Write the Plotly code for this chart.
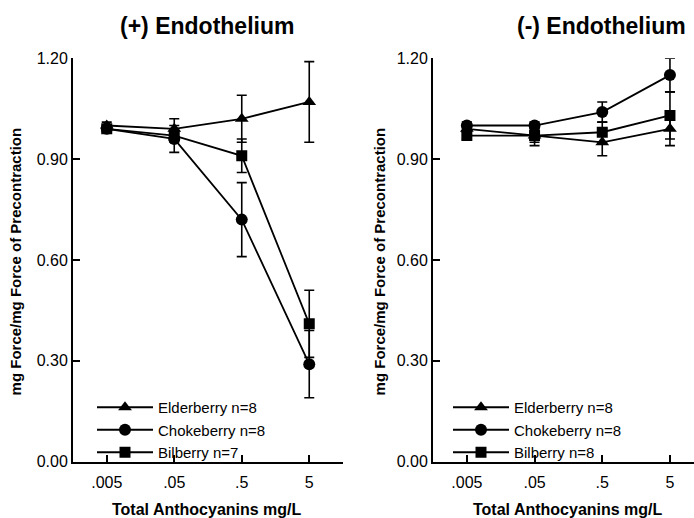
import plotly.graph_objects as go

# ---------------- data ----------------
concentrations = [".005", ".05", ".5", "5"]
symbols = ["triangle-up", "circle", "square"]
names_plus = ["Elderberry n=8", "Chokeberry n=8", "Bilberry n=7"]
names_minus = ["Elderberry n=8", "Chokeberry n=8", "Bilberry n=8"]

# (+) Endothelium
elder_plus = [1.00, 0.99, 1.02, 1.07]
elder_plus_err = [0.01, 0.03, 0.07, 0.12]
choke_plus = [0.99, 0.96, 0.72, 0.29]
choke_plus_err = [0.01, 0.04, 0.11, 0.10]
bil_plus = [0.99, 0.97, 0.91, 0.41]
bil_plus_err = [0.01, 0.02, 0.05, 0.10]

# (-) Endothelium
elder_minus = [0.99, 0.97, 0.95, 0.99]
elder_minus_err = [0.01, 0.02, 0.04, 0.05]
choke_minus = [1.00, 1.00, 1.04, 1.15]
choke_minus_err = [0.01, 0.01, 0.03, 0.05]
bil_minus = [0.97, 0.97, 0.98, 1.03]
bil_minus_err = [0.01, 0.03, 0.03, 0.07]

y_ticks = [0.0, 0.3, 0.6, 0.9, 1.2]

# ---------------- figure ----------------
W, H = 694, 518
FONT = "Arial, Liberation Sans, sans-serif"
fig = go.Figure()

marker_sizes = {"triangle-up": 12, "circle": 12, "square": 11}


def add_series(y, err, name, symbol, xa, ya, legend):
    fig.add_trace(go.Scatter(
        x=concentrations, y=y, name=name, mode="lines+markers",
        xaxis=xa, yaxis=ya, legend=legend,
        line=dict(color="black", width=1.8),
        marker=dict(symbol=symbol, size=marker_sizes[symbol], color="black"),
        error_y=dict(type="data", array=err, visible=True, color="black",
                     thickness=1.6, width=5),
    ))


for y, e, n, s in zip([elder_plus, choke_plus, bil_plus],
                      [elder_plus_err, choke_plus_err, bil_plus_err],
                      names_plus, symbols):
    add_series(y, e, n, s, "x", "y", "legend")

for y, e, n, s in zip([elder_minus, choke_minus, bil_minus],
                      [elder_minus_err, choke_minus_err, bil_minus_err],
                      names_minus, symbols):
    add_series(y, e, n, s, "x2", "y2", "legend2")

axis_common = dict(showline=True, linecolor="black", linewidth=2,
                   ticks="inside", ticklen=7, tickwidth=1.6, tickcolor="black",
                   showgrid=False, zeroline=False,
                   tickfont=dict(family=FONT, size=16, color="black"))

ydom = [(H - 469) / H, (H - 52) / H]
fig.update_layout(
    width=W, height=H,
    margin=dict(l=0, r=0, t=0, b=0),
    paper_bgcolor="white", plot_bgcolor="white",
    font=dict(family=FONT, color="black"),
    xaxis=dict(domain=[73 / W, 343 / W], anchor="y", type="category",
               range=[-0.5, 3.5], ticklabelstandoff=5, **axis_common),
    yaxis=dict(domain=ydom, anchor="x", range=[0, 1.2], tickvals=y_ticks,
               tickformat=".2f", **axis_common),
    xaxis2=dict(domain=[433 / W, 1.0], anchor="y2", type="category",
                range=[-0.5, 3.355], ticklabelstandoff=5, **axis_common),
    yaxis2=dict(domain=ydom, anchor="x2", range=[0, 1.2], tickvals=y_ticks,
                tickformat=".2f", **axis_common),
    legend=dict(x=92 / W, y=1 - 396 / H, xanchor="left", yanchor="top",
                bgcolor="rgba(0,0,0,0)", font=dict(size=15, family=FONT),
                itemwidth=56, tracegroupgap=0),
    legend2=dict(x=448 / W, y=1 - 396 / H, xanchor="left", yanchor="top",
                 bgcolor="rgba(0,0,0,0)", font=dict(size=15, family=FONT),
                 itemwidth=56, tracegroupgap=0),
    showlegend=True,
)

title_font = dict(family=FONT, size=23, color="black", weight="bold")
lab_font = dict(family=FONT, size=15, color="black", weight="bold")
x_lab_font = dict(family=FONT, size=16, color="black", weight="bold")
ann = [
    dict(text="(+) Endothelium", x=207 / W, y=1 - 19 / H, font=title_font),
    dict(text="(-) Endothelium", x=601 / W, y=1 - 19 / H, font=title_font),
    dict(text="mg Force/mg Force of Precontraction", x=15 / W, y=1 - 262 / H,
         textangle=-90, font=lab_font),
    dict(text="mg Force/mg Force of Precontraction", x=379 / W, y=1 - 262 / H,
         textangle=-90, font=lab_font),
    dict(text="Total Anthocyanins mg/L", x=207 / W, y=1 - 519 / H, font=x_lab_font),
    dict(text="Total Anthocyanins mg/L", x=568 / W, y=1 - 519 / H, font=x_lab_font),
]
for a in ann:
    fig.add_annotation(xref="paper", yref="paper", showarrow=False,
                       xanchor="center", yanchor="middle", **a)

fig.write_html("out.html")
